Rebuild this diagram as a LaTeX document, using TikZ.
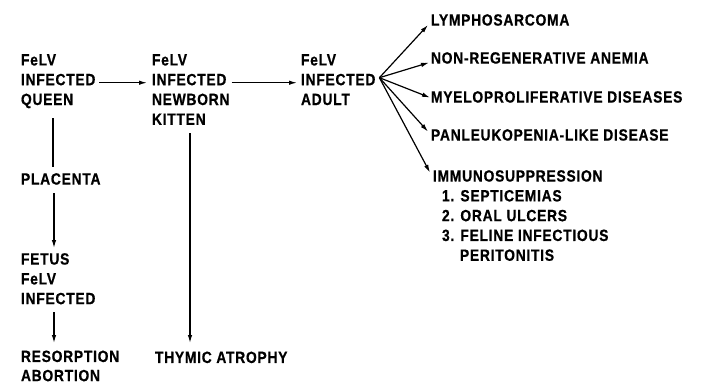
\documentclass[tikz,border=0pt]{standalone}
\usepackage{fontspec}
\setmainfont[FakeStretch=0.85,LetterSpace=4.5,BoldFeatures={FakeBold=0.6}]{Liberation Sans}
\usetikzlibrary{arrows.meta,calc}
\begin{document}
\begin{tikzpicture}[x=1pt,y=-1pt,
  lbl/.style={anchor=north west,inner sep=0pt,outer sep=0pt,align=left,font=\fontsize{16.3}{19.8}\selectfont\bfseries},
  conn/.style={line width=1.2pt},
  arr/.style={line width=1.2pt,-{Latex[length=8pt,width=4.5pt]}}]
\useasboundingbox[fill=white] (0,0) rectangle (707,384);
% nodes
\node[lbl] (queen) at (21,54.2) {FeLV\\INFECTED\\QUEEN};
\node[lbl] (kitten) at (152,54.2) {FeLV\\INFECTED\\NEWBORN\\KITTEN};
\node[lbl] (adult) at (301,54.2) {FeLV\\INFECTED\\ADULT};
\node[lbl] (placenta) at (21,173.2) {PLACENTA};
\node[lbl] (fetus) at (21,253.2) {FETUS\\FeLV\\INFECTED};
\node[lbl,font=\fontsize{16.3}{19.2}\selectfont\bfseries] (resorp) at (21,350.6) {RESORPTION\\ABORTION};
\node[lbl] (thymic) at (155,351.6) {THYMIC ATROPHY};
\node[lbl] (lym) at (431,14.2) {LYMPHOSARCOMA};
\node[lbl] (anemia) at (431,52.2) {NON-REGENERATIVE ANEMIA};
\node[lbl] (myelo) at (431,91.2) {MYELOPROLIFERATIVE DISEASES};
\node[lbl] (panleuk) at (431,129.2) {PANLEUKOPENIA-LIKE DISEASE};
\node[lbl] (immuno) at (433,170.2) {IMMUNOSUPPRESSION\\\hspace*{9pt}1. SEPTICEMIAS\\\hspace*{9pt}2. ORAL ULCERS\\\hspace*{9pt}3. FELINE INFECTIOUS\\\hspace*{27pt}PERITONITIS};
% horizontal chain
\draw[arr] ($(queen.north east)+(4,28.5)$) -- ($(kitten.north west)+(-5,28.5)$);
\draw[arr] ($(kitten.north east)+(2,28.5)$) -- ($(adult.north west)+(-4,28.5)$);
% fan
\coordinate (fan) at ($(adult.north east)+(4,23.5)$);
\draw[arr] (fan) -- ($(lym.north west)+(-3,10.8)$);
\draw[arr] (fan) -- ($(anemia.north west)+(-2,10.4)$);
\draw[arr] (fan) -- ($(myelo.north west)+(-1,6.4)$);
\draw[arr] (fan) -- ($(panleuk.north west)+(-3,2.4)$);
\draw[arr] (fan) -- ($(immuno.north west)+(-3,2.4)$);
% verticals
\draw[conn] ($(queen.north west)+(32,63.8)$) -- ($(placenta.north west)+(32,-6.2)$);
\draw[arr] ($(placenta.north west)+(33,19.8)$) -- ($(fetus.north west)+(33,-5.2)$);
\draw[arr] ($(fetus.north west)+(33,58.8)$) -- ($(resorp.north west)+(33,-7.6)$);
\draw[arr] ($(kitten.north west)+(38,78.8)$) -- ($(thymic.north west)+(35,-8.6)$);
\end{tikzpicture}
\end{document}
